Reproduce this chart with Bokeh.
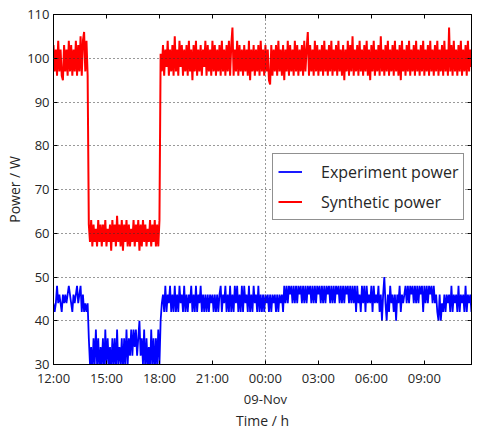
from bokeh.plotting import figure
from bokeh.models import FixedTicker, LinearAxis, Range1d, Legend, LegendItem
from bokeh.embed import file_html
from bokeh.resources import INLINE

# ---- data (hours after 08-Nov 12:00, one sample every 4 minutes) ----
sample_minutes = 4

synthetic_high_a = [103, 97, 102, 96, 104, 97, 102, 96, 95, 103,
                    97, 102, 96, 104, 97, 103, 96, 102, 97, 104,
                    96, 103, 97, 105, 96, 104, 106, 97, 104, 96]
synthetic_low = [62, 58, 63, 57, 62, 58, 61, 57, 63, 58,
                 62, 57, 62, 58, 63, 57, 61, 58, 62, 56,
                 63, 58, 62, 57, 64, 58, 62, 57, 63, 56,
                 62, 58, 63, 57, 62, 57, 61, 58, 63, 57,
                 62, 58, 63, 56, 62, 57, 63, 58, 62, 57,
                 61, 58, 63, 57, 62, 58, 63, 57, 62, 57,
                 63]
synthetic_high_b = [101, 97, 103, 96, 102, 98, 104, 96, 102, 97,
                    103, 96, 105, 97, 102, 96, 104, 98, 103, 96,
                    102, 97, 103, 96, 104, 97, 102, 95, 103, 97,
                    104, 96, 102, 97, 103, 96, 102, 98, 104, 96,
                    103, 97, 102, 96, 104, 97, 103, 96, 102, 97,
                    103, 96, 104, 97, 102, 96, 103, 97, 104, 96,
                    103, 107, 96, 102, 97, 104, 96, 103, 97, 102,
                    96, 103, 97, 102, 96, 104, 95, 102, 97, 103,
                    96, 102, 97, 103, 96, 104, 97, 102, 96, 103,
                    97, 102, 95, 94, 103, 96, 102, 97, 103, 96,
                    104, 97, 102, 96, 103, 95, 102, 97, 104, 96,
                    103, 97, 102, 96, 104, 97, 103, 96, 102, 97,
                    103, 96, 104, 97, 102, 106, 96, 103, 97, 102,
                    96, 104, 97, 103, 96, 102, 97, 103, 96, 104,
                    97, 102, 96, 103, 97, 104, 96, 102, 97, 103,
                    96, 104, 97, 102, 96, 103, 95, 102, 97, 104,
                    96, 103, 97, 105, 96, 102, 97, 103, 96, 104,
                    97, 102, 96, 103, 97, 104, 96, 102, 95, 103,
                    97, 104, 96, 102, 97, 103, 96, 105, 97, 102,
                    96, 103, 97, 104, 96, 102, 97, 103, 96, 104,
                    97, 102, 96, 103, 95, 104, 97, 102, 96, 103,
                    97, 104, 96, 102, 97, 103, 96, 104, 97, 102,
                    96, 103, 97, 104, 96, 102, 97, 103, 96, 104,
                    97, 102, 96, 103, 97, 104, 96, 102, 97, 103,
                    96, 104, 97, 102, 96, 107, 97, 103, 96, 104,
                    97, 102, 96, 103, 97, 104, 96, 102, 97, 103,
                    96, 104, 97, 102, 98]

experiment_a = [44, 42, 44, 48, 44, 46, 44, 42, 46, 44,
                46, 44, 46, 48, 46, 44, 42, 46, 44, 46,
                48, 44, 46, 48, 42, 46, 42, 44, 42, 44]
experiment_low = [36, 30, 34, 28, 36, 30, 38, 30, 36, 28,
                  34, 30, 36, 28, 38, 30, 36, 30, 34, 28,
                  36, 30, 36, 28, 38, 30, 34, 30, 36, 28,
                  36, 30, 38, 30,
                  36, 32, 38, 32, 38, 34, 38, 32, 36, 40, 32,
                  36, 30, 38, 28, 36, 30, 34, 28, 38, 30,
                  36, 28, 36, 30, 38, 30]
experiment_b = [40, 44,
                46, 42, 48, 42, 46, 44, 48, 42, 46, 42,
                48, 42, 46, 42, 48, 44, 46, 42, 48, 42,
                46, 42, 46, 44, 48, 42, 46, 42, 48, 42,
                46, 44, 48, 42, 46, 42,
                46, 42, 46, 42, 46, 44, 46, 42, 46, 42, 46, 42, 46,
                48, 42, 46, 44, 48, 42, 46, 42,
                48, 42, 46, 42, 48, 44, 48, 42, 46, 42,
                48, 42, 48, 44, 46, 42, 48, 42, 46, 42,
                48, 44, 46, 42, 48, 42, 46, 42,
                46, 42, 46, 44, 46, 42, 46, 42, 46, 44,
                46, 42, 46, 42, 46, 44, 46, 42,
                48, 44, 48, 44, 48, 46, 48, 44, 48, 44,
                48, 44, 48, 46, 48, 44, 48, 44, 48, 44,
                48, 46, 48, 44, 48, 44, 48, 44, 48, 46,
                48, 44, 48, 44, 48, 44, 48, 46, 48, 44,
                48, 44, 48, 44, 48, 46, 48, 44, 48, 44,
                48, 44, 48, 46, 48, 44, 48, 44, 48, 44,
                48, 42, 48, 44, 46, 42, 48, 44, 48, 42,
                48, 44, 46, 44, 48, 42, 48, 44, 46, 44,
                48, 42,
                46, 40, 46, 50, 44, 40, 46, 42, 48, 44,
                46, 42, 46, 40, 46, 44, 48, 42, 46, 44, 46,
                48, 44, 48, 44, 48, 46, 48, 44, 48, 44,
                48, 44, 48, 46, 48, 42, 48, 44, 48, 44,
                48, 46, 48, 44, 48, 44, 46,
                42, 40, 46, 40, 44, 42, 46, 42, 46, 44,
                46, 42, 48, 42, 46, 44, 46, 42, 48, 42,
                46, 44, 46, 42, 48, 42, 46, 44, 46, 42]

tick_hours = [0, 3, 6, 9, 12, 15, 18, 21]
tick_labels = ["12:00", "15:00", "18:00", "21:00", "00:00",
               "03:00", "06:00", "09:00"]
date_tick = [12]
date_label = ["09-Nov"]
y_ticks = [30, 40, 50, 60, 70, 80, 90, 100, 110]

synthetic = synthetic_high_a + synthetic_low + synthetic_high_b
experiment = experiment_a + experiment_low + experiment_b
t_syn = [i * sample_minutes / 60 for i in range(len(synthetic))]
t_exp = [i * sample_minutes / 60 for i in range(len(experiment))]

FONT = "Open Sans"
TXT = "#262626"

p = figure(width=494, height=432, output_backend="svg", toolbar_location=None,
           x_range=Range1d(0, 23.67), y_range=Range1d(30, 110),
           min_border_left=53, min_border_right=23, min_border_top=14,
           min_border_bottom=62)
p.outline_line_color = "black"
p.outline_line_width = 1

rb = p.line(t_exp, experiment, line_color="#0000ff", line_width=1.8)
rr = p.line(t_syn, synthetic, line_color="#ff0000", line_width=2)

xa = p.xaxis[0]
xa.ticker = FixedTicker(ticks=tick_hours, minor_ticks=[])
xa.major_label_overrides = {h: l for h, l in zip(tick_hours, tick_labels)}
ya = p.yaxis[0]
ya.ticker = FixedTicker(ticks=y_ticks, minor_ticks=[])

date_axis = LinearAxis(ticker=FixedTicker(ticks=date_tick, minor_ticks=[]),
                       major_label_overrides={h: l for h, l in zip(date_tick, date_label)},
                       major_tick_line_color=None, axis_line_color=None)
p.add_layout(date_axis, "below")

for ax in (xa, ya, date_axis):
    ax.major_tick_in = 4
    ax.major_tick_out = 0
    ax.minor_tick_line_color = None
    ax.major_label_text_font = FONT
    ax.major_label_text_font_size = "13px"
    ax.major_label_text_color = TXT
    ax.axis_label_text_font = FONT
    ax.axis_label_text_font_size = "14px"
    ax.axis_label_text_font_style = "normal"
    ax.axis_label_text_color = TXT
for ax in (xa, ya):
    ax.axis_line_color = "black"
    ax.major_tick_line_color = "black"

date_axis.axis_label = "Time / h"
ya.axis_label = "Power / W"
xa.major_label_standoff = 4
date_axis.major_label_standoff = 0
date_axis.axis_label_standoff = 0
ya.major_label_standoff = 4
ya.axis_label_standoff = 0

top = LinearAxis(ticker=FixedTicker(ticks=tick_hours, minor_ticks=[]),
                 major_label_overrides={h: "" for h in tick_hours},
                 major_label_text_font_size="1px", major_label_standoff=0,
                 major_tick_in=4, major_tick_out=0, minor_tick_line_color=None,
                 axis_line_color="black")
right = LinearAxis(ticker=FixedTicker(ticks=y_ticks, minor_ticks=[]),
                   major_label_overrides={h: "" for h in y_ticks},
                   major_label_text_font_size="1px", major_label_standoff=0,
                   major_tick_in=4, major_tick_out=0, minor_tick_line_color=None,
                   axis_line_color="black")
p.add_layout(top, "above")
p.add_layout(right, "right")

p.xgrid.ticker = FixedTicker(ticks=[12])
p.ygrid.ticker = FixedTicker(ticks=y_ticks)
for g in (p.xgrid, p.ygrid):
    g.grid_line_color = "#333333"
    g.grid_line_dash = "1 3"
    g.grid_line_width = 1
    g.level = "overlay"

legend = Legend(items=[LegendItem(label="Experiment power", renderers=[rb]),
                       LegendItem(label="Synthetic power", renderers=[rr])],
                location=(219, 144), label_text_font=FONT,
                label_text_font_size="16px", label_text_color=TXT,
                glyph_width=24, glyph_height=25, label_height=25,
                label_standoff=19, spacing=5, padding=5, margin=0,
                border_line_color="#222222", border_line_width=1.5,
                background_fill_alpha=1)
p.add_layout(legend)

open("out.html", "w").write(file_html(p, INLINE))
